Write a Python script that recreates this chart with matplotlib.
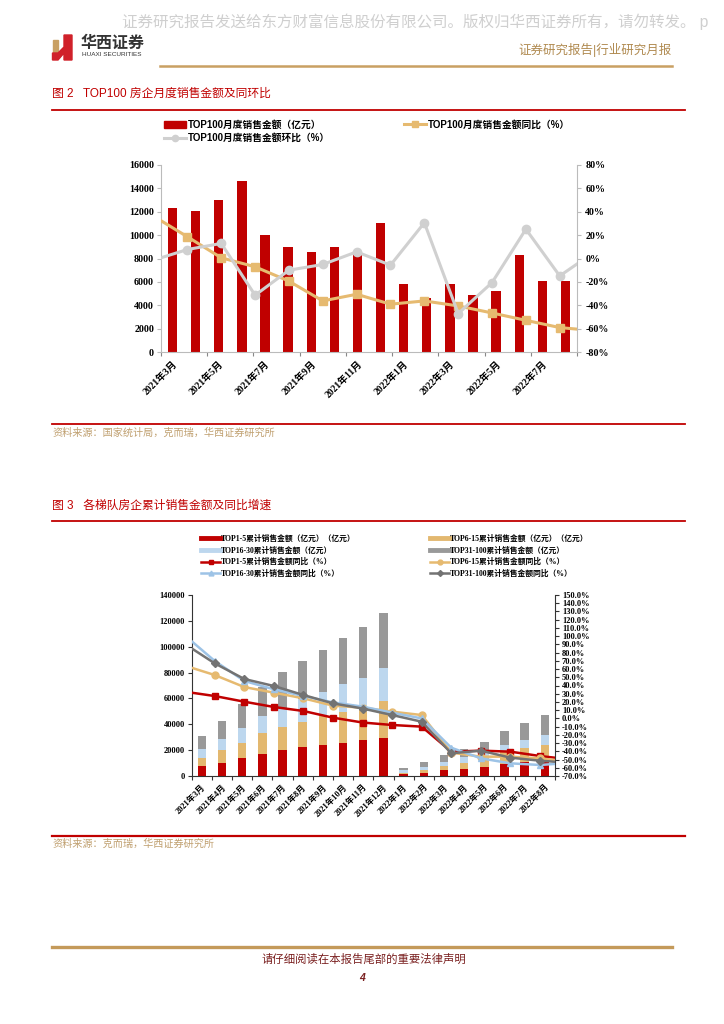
import numpy as np
import matplotlib
matplotlib.use('Agg')
import matplotlib.pyplot as plt
from matplotlib.lines import Line2D
from matplotlib.patches import Patch, Rectangle, Polygon

CJK = 'Noto Sans CJK SC'
SERIF = ['Liberation Serif', CJK]
SANS = ['Liberation Sans', CJK]
plt.rcParams['font.family'] = ['Liberation Serif', CJK]
plt.rcParams['axes.unicode_minus'] = False

W, H = 724, 1024

RED = '#C00000'
GOLD = '#E6BA70'
LBLUE = '#BDD7EE'
LBLUE_L = '#9DC3E6'
GRAYBAR = '#999999'
DGRAY = '#737373'
LGRAY = '#D0D0D0'

# ---------------- data: 图2 ----------------
months = ['2021年3月', '2021年4月', '2021年5月', '2021年6月', '2021年7月', '2021年8月',
          '2021年9月', '2021年10月', '2021年11月', '2021年12月', '2022年1月', '2022年2月',
          '2022年3月', '2022年4月', '2022年5月', '2022年6月', '2022年7月', '2022年8月']
sales100 = [12300, 12100, 13000, 14600, 10050, 9000, 8540, 9000, 8370, 11060,
            5860, 4630, 5800, 4910, 5200, 8340, 6060, 6060]
# line series (drawn on their own category axis, as in the source)
yoy100 = [36.2, 18.6, 0.6, -7.1, -19.4, -36.3, -30.6, -39.1, -36.3, -40.6, -46.6, -52.9, -59.1, -61.7]
mom100 = [-1.4, 7.7, 12.9, -31.4, -10.0, -5.1, 5.7, -5.7, 30.6, -47.1, -20.6, 25.1, -14.9, 5.1]

# ---------------- data: 图3 ----------------
top1_5 = [7700, 10300, 13800, 17400, 20000, 22200, 24100, 25900, 28000, 29100,
          1500, 2600, 4400, 5700, 7200, 9000, 11100, 12400]
top6_15 = [6200, 9600, 12100, 15700, 17800, 19800, 22200, 23900, 23800, 28900,
           1100, 1800, 3300, 4100, 6500, 9800, 10300, 11600]
top16_30 = [6700, 8700, 11100, 13300, 14700, 17500, 18700, 21200, 24200, 25300,
            1800, 2300, 3400, 4900, 5100, 5200, 6700, 7700]
top31_100 = [10100, 14200, 18600, 22700, 27900, 29700, 32400, 36000, 39500, 43000,
             2000, 3900, 5100, 6300, 7800, 11100, 13100, 15200]
yoy1_5 = [32.4, 27.2, 20.3, 13.9, 9.0, 0.9, -5.0, -8.0, -10.0, -40.4, -39.2, -40.4, -45.7, -49.8]
yoy6_15 = [64.0, 52.7, 38.1, 31.3, 24.4, 15.5, 13.0, 8.2, 4.1, -41.6, -46.5, -46.5, -48.5, -52.6]
yoy16_30 = [100.5, 69.8, 45.5, 35.4, 27.2, 19.5, 14.3, 7.0, 0.0, -35.6, -48.5, -54.6, -56.6, -54.1]
yoy31_100 = [90.2, 66.9, 47.9, 39.4, 28.4, 18.3, 12.0, 4.1, -4.0, -42.4, -39.2, -47.7, -51.4, -53.9]


def fx(x):
    return x / W


def fy(y):
    return 1 - y / H


def rect(x0, y0, x1, y1):
    return [fx(x0), fy(y1), (x1 - x0) / W, (y1 - y0) / H]


fig = plt.figure(figsize=(7.24, 10.24), dpi=100)
fig.patch.set_facecolor('white')

# ---------------- page decoration ----------------
fig.text(fx(122), fy(22), '证券研究报告发送给东方财富信息股份有限公司。版权归华西证券所有，请勿转发。 p',
         fontsize=11.2, color='#CFCFCF', family=SANS, va='center', ha='left', weight='light')
fig.patches.append(Polygon([(fx(52.5), fy(40)), (fx(58), fy(40)), (fx(58), fy(53)), (fx(52.5), fy(53))],
                           closed=True, color='#C9A063', transform=fig.transFigure))
fig.patches.append(Polygon([(fx(52.5), fy(53)), (fx(58), fy(53)), (fx(64), fy(47)), (fx(64), fy(35)),
                            (fx(72), fy(35)), (fx(72), fy(60)), (fx(64), fy(60)), (fx(64), fy(53)),
                            (fx(58), fy(60)), (fx(52.5), fy(60))],
                           closed=True, color='#D0212A', transform=fig.transFigure))
fig.text(fx(81), fy(43), '华西证券', fontsize=11.5, color='#333333', family=SANS, weight='bold',
         va='center', ha='left')
fig.text(fx(82), fy(55), 'HUAXI SECURITIES', fontsize=4.6, color='#333333', family=SANS,
         va='center', ha='left')
fig.text(fx(672), fy(50), '证券研究报告|行业研究月报', fontsize=9, color='#B08A50', family=SANS,
         va='center', ha='right')
fig.add_artist(Line2D([fx(160), fx(672)], [fy(66), fy(66)], color='#C9A063', lw=1.8,
                      transform=fig.transFigure))

fig.text(fx(52), fy(94), '图 2   TOP100 房企月度销售金额及同环比', fontsize=8.5, color=RED,
         family=SANS, va='center', ha='left')
fig.add_artist(Line2D([fx(52), fx(685)], [fy(110), fy(110)], color=RED, lw=1.3,
                      transform=fig.transFigure))
fig.add_artist(Line2D([fx(52), fx(685)], [fy(424), fy(424)], color=RED, lw=1.3,
                      transform=fig.transFigure))
fig.text(fx(52), fy(433), '资料来源：国家统计局，克而瑞，华西证券研究所', fontsize=7.3, color='#C0A070',
         family=SANS, va='center', ha='left')

fig.text(fx(52), fy(506), '图 3   各梯队房企累计销售金额及同比增速', fontsize=8.5, color=RED,
         family=SANS, va='center', ha='left')
fig.add_artist(Line2D([fx(52), fx(685)], [fy(521), fy(521)], color=RED, lw=1.3,
                      transform=fig.transFigure))
fig.add_artist(Line2D([fx(52), fx(685)], [fy(836), fy(836)], color=RED, lw=1.6,
                      transform=fig.transFigure))
fig.text(fx(52), fy(844), '资料来源：克而瑞，华西证券研究所', fontsize=7.3, color='#C0A070',
         family=SANS, va='center', ha='left')

fig.add_artist(Line2D([fx(52), fx(672)], [fy(947), fy(947)], color='#C49A5A', lw=2.4,
                      transform=fig.transFigure))
fig.text(fx(364), fy(959), '请仔细阅读在本报告尾部的重要法律声明', fontsize=8.2, color='#7A2020',
         family=SANS, va='center', ha='center')
fig.text(fx(362), fy(978), '4', fontsize=7.5, color='#7A2020', family=SANS, va='center',
         ha='center', weight='bold', style='italic')


def style_cat_x(ax, n, label_idx, labels, fs):
    ax.set_xlim(-0.5, n - 0.5)
    ax.set_xticks(np.arange(-0.5, n, 2 if len(label_idx) < n else 1))
    ax.set_xticklabels([])
    ax.set_xticks(label_idx, minor=True)
    ax.set_xticklabels([labels[i] for i in label_idx], minor=True, rotation=45, ha='right',
                       rotation_mode='anchor', fontsize=fs, weight='bold', family=SERIF)
    ax.tick_params(axis='x', which='major', length=3, direction='out', color='#888888')
    ax.tick_params(axis='x', which='minor', length=0, pad=5)


# ---------------- 图2 chart ----------------
r1 = rect(161, 165, 577, 352)
ax1 = fig.add_axes(r1)
x = np.arange(len(months))
ax1.bar(x, sales100, width=0.4, color=RED, zorder=2)
ax1.set_ylim(0, 16000)
ax1.set_yticks(np.arange(0, 16001, 2000))
ax1.set_yticklabels([str(v) for v in range(0, 16001, 2000)], fontsize=7.2, weight='bold', family=SERIF)
ax1.tick_params(axis='y', length=3, direction='out', color='#BBBBBB', pad=2)
style_cat_x(ax1, len(months), list(range(0, 18, 2)), months, 7)
for s in ['top', 'right']:
    ax1.spines[s].set_visible(False)
for s in ['left', 'bottom']:
    ax1.spines[s].set_color('#BBBBBB')

axl1 = fig.add_axes(r1)
axl1.patch.set_visible(False)
xl = np.arange(len(yoy100))
axl1.plot(xl, yoy100, color=GOLD, lw=2.2, marker='s', ms=5.5, zorder=3)
axl1.plot(xl, mom100, color=LGRAY, lw=2.2, marker='o', ms=6, zorder=3)
axl1.set_xlim(0.22, 12.51)
axl1.set_ylim(-80, 80)
axl1.xaxis.set_visible(False)
axl1.yaxis.tick_right()
axl1.set_yticks(np.arange(-80, 81, 20))
axl1.set_yticklabels(['%d%%' % v for v in range(-80, 81, 20)], fontsize=7.2, weight='bold', family=SERIF)
axl1.tick_params(axis='y', length=3, direction='out', color='#BBBBBB', pad=3)
for s in ['top', 'left', 'bottom']:
    axl1.spines[s].set_visible(False)
axl1.spines['right'].set_color('#BBBBBB')

h_bar = Patch(color=RED)
h_yoy = Line2D([], [], color=GOLD, lw=2.2, marker='s', ms=4.5)
h_mom = Line2D([], [], color=LGRAY, lw=2.2, marker='o', ms=4.5)
kw1 = dict(frameon=False, loc='upper left', borderpad=0, handlelength=2.3, handletextpad=0.15,
           labelspacing=0.35, prop=dict(family=SANS, weight='bold', size=7))
fig.legend([h_bar, h_mom], ['TOP100月度销售金额（亿元）', 'TOP100月度销售金额环比（%）'],
           bbox_to_anchor=(fx(159), fy(115)), **kw1)
fig.legend([h_yoy], ['TOP100月度销售金额同比（%）'], bbox_to_anchor=(fx(399), fy(115)), **kw1)

# ---------------- 图3 chart ----------------
r2 = rect(191.7, 595, 555, 776)
ax2 = fig.add_axes(r2)
b1 = np.array(top1_5)
b2 = np.array(top6_15)
b3 = np.array(top16_30)
b4 = np.array(top31_100)
ax2.bar(x, b1, width=0.42, color=RED, zorder=2)
ax2.bar(x, b2, width=0.42, bottom=b1, color='#E3B86F', zorder=2)
ax2.bar(x, b3, width=0.42, bottom=b1 + b2, color=LBLUE, zorder=2)
ax2.bar(x, b4, width=0.42, bottom=b1 + b2 + b3, color=GRAYBAR, zorder=2)
ax2.set_ylim(0, 140000)
ax2.set_yticks(np.arange(0, 140001, 20000))
ax2.set_yticklabels([str(v) for v in range(0, 140001, 20000)], fontsize=6, weight='bold', family=SERIF)
ax2.tick_params(axis='y', length=3, direction='out', color='#333333', pad=2)
style_cat_x(ax2, len(months), list(range(18)), months, 6)
ax2.tick_params(axis='x', which='major', color='#333333')
for s in ['top', 'right']:
    ax2.spines[s].set_visible(False)
for s in ['left', 'bottom']:
    ax2.spines[s].set_color('#333333')

axl2 = fig.add_axes(r2)
axl2.patch.set_visible(False)
xl2 = np.arange(len(yoy1_5))
axl2.plot(xl2, yoy1_5, color=RED, lw=1.8, marker='s', ms=5, zorder=3)
axl2.plot(xl2, yoy6_15, color=GOLD, lw=1.8, marker='o', ms=5, zorder=3)
axl2.plot(xl2, yoy16_30, color=LBLUE_L, lw=1.8, marker='^', ms=5, zorder=3)
axl2.plot(xl2, yoy31_100, color=DGRAY, lw=1.8, marker='D', ms=4, zorder=4)
axl2.set_xlim(0.22, 12.51)
axl2.set_ylim(-70, 150)
axl2.xaxis.set_visible(False)
axl2.yaxis.tick_right()
axl2.set_yticks(np.arange(-70, 151, 10))
axl2.set_yticklabels(['%.1f%%' % v for v in range(-70, 151, 10)], fontsize=6, weight='bold', family=SERIF)
axl2.tick_params(axis='y', length=3, direction='out', color='#333333', pad=2)
for s in ['top', 'left', 'bottom']:
    axl2.spines[s].set_visible(False)
axl2.spines['right'].set_color('#333333')

hh = [Line2D([], [], color=RED, lw=3.5),
      Line2D([], [], color=LBLUE, lw=3.5),
      Line2D([], [], color=RED, lw=1.8, marker='s', ms=3.5),
      Line2D([], [], color=LBLUE_L, lw=1.8, marker='^', ms=3.5)]
hl = ['TOP1-5累计销售金额（亿元）（亿元）', 'TOP16-30累计销售金额（亿元）',
      'TOP1-5累计销售金额同比（%）', 'TOP16-30累计销售金额同比（%）']
hh2 = [Line2D([], [], color='#E3B86F', lw=3.5),
       Line2D([], [], color=GRAYBAR, lw=3.5),
       Line2D([], [], color=GOLD, lw=1.8, marker='o', ms=3.5),
       Line2D([], [], color=DGRAY, lw=1.8, marker='D', ms=3)]
hl2 = ['TOP6-15累计销售金额（亿元）（亿元）', 'TOP31-100累计销售金额（亿元）',
       'TOP6-15累计销售金额同比（%）', 'TOP31-100累计销售金额同比（%）']
kw2 = dict(frameon=False, loc='upper left', borderpad=0, handlelength=2.5, handletextpad=0.1,
           labelspacing=0.45, prop=dict(family=SERIF, weight='bold', size=5.6))
fig.legend(hh, hl, bbox_to_anchor=(fx(197), fy(531)), **kw2)
fig.legend(hh2, hl2, bbox_to_anchor=(fx(426), fy(531)), **kw2)

fig.savefig('out.png', dpi=100, facecolor='white')
